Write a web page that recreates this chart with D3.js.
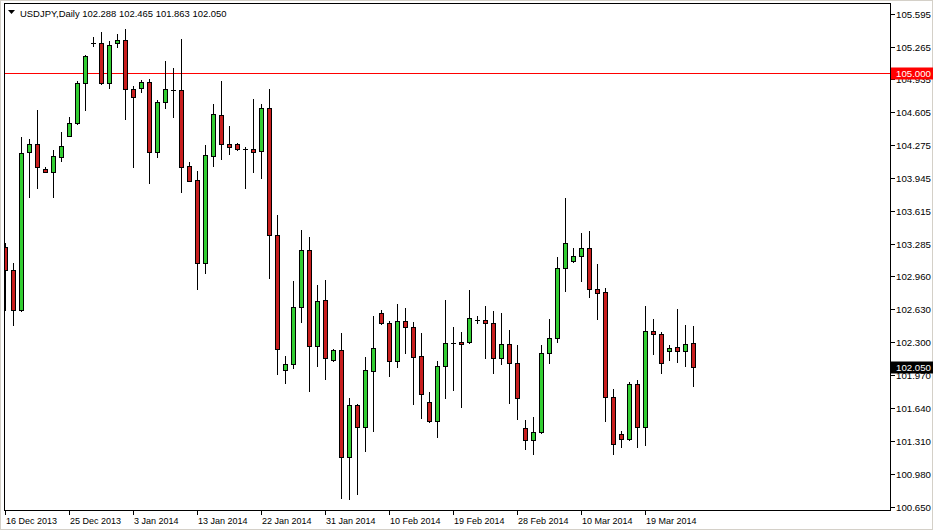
<!DOCTYPE html>
<html><head><meta charset="utf-8">
<script src="https://cdn.jsdelivr.net/npm/d3@7"></script>
<style>
html,body{margin:0;padding:0;background:#fff;overflow:hidden;}
svg{display:block;font-family:"Liberation Sans",Arial,sans-serif;}
</style>
</head><body><div id="chart"></div>
<script>
const title = "USDJPY,Daily 102.288 102.465 101.863 102.050";
const opens = [103.254,103.023,102.622,104.204,104.288,104.037,104.010,104.160,104.371,104.501,
104.897,105.298,105.298,104.897,105.304,105.331,104.836,104.846,104.907,104.210,
104.706,104.829,104.829,104.067,103.926,103.091,104.170,104.579,104.285,104.285,
104.234,104.234,104.217,104.646,103.374,102.020,102.077,102.649,103.224,102.264,
102.722,102.120,102.221,101.150,101.669,101.445,102.013,102.589,102.488,102.113,
102.512,102.454,102.160,101.696,101.508,102.060,102.291,102.298,102.296,102.522,
102.519,102.488,102.137,102.278,102.087,101.435,101.314,101.395,102.187,102.338,
103.040,103.111,103.161,103.241,102.830,102.800,101.752,101.375,101.331,101.876,
101.445,102.414,102.378,102.214,102.248,102.214,102.288];
const highs = [103.294,103.094,104.361,104.338,104.629,104.060,104.227,104.405,104.562,104.920,
105.184,105.358,105.408,105.318,105.391,105.438,104.870,104.930,104.937,104.729,
105.123,105.047,105.341,104.104,104.020,104.278,104.689,104.920,104.468,104.298,
104.254,104.739,104.686,104.839,103.575,102.160,102.916,103.425,103.351,102.873,
102.923,102.230,102.388,101.736,101.675,102.153,102.562,102.622,102.512,102.682,
102.639,102.505,102.388,101.796,102.110,102.722,102.454,102.404,102.818,102.562,
102.662,102.612,102.589,102.421,102.271,101.518,101.545,102.271,102.532,103.151,
103.743,103.241,103.392,103.415,103.083,102.840,101.826,101.411,101.903,101.919,
102.662,102.529,102.404,102.271,102.629,102.471,102.465];
const lows = [102.622,102.471,102.615,103.759,103.843,104.005,103.759,104.120,104.365,104.488,
104.629,105.271,104.890,104.852,105.264,104.535,104.060,104.812,103.893,104.160,
104.652,104.562,103.809,103.915,102.830,102.996,104.070,104.134,104.184,104.227,
103.849,104.010,103.949,102.946,101.977,101.892,102.037,102.505,101.812,102.063,
101.927,102.110,100.738,100.722,100.773,101.210,101.411,102.481,101.963,102.047,
102.194,101.676,101.541,101.500,101.351,101.736,101.819,101.645,102.290,102.488,
102.143,101.987,102.077,101.692,101.525,101.224,101.174,101.390,102.093,102.304,
102.816,103.105,102.916,102.755,102.529,101.511,101.177,101.250,101.318,101.250,
101.267,102.180,101.993,102.120,102.100,102.063,101.863];
const closes = [103.023,102.622,104.194,104.285,104.054,104.010,104.167,104.271,104.501,104.897,
105.171,105.298,104.897,105.278,105.328,104.836,104.762,104.907,104.204,104.712,
104.836,104.829,104.054,103.919,103.091,104.177,104.586,104.285,104.260,104.234,
104.234,104.210,104.646,103.374,102.228,102.080,102.649,103.224,102.261,102.712,
102.137,102.221,101.150,101.669,101.445,102.020,102.241,102.488,102.113,102.512,
102.448,102.153,101.776,101.508,102.060,102.288,102.291,102.284,102.542,102.522,
102.488,102.137,102.278,102.087,101.742,101.314,101.395,102.187,102.338,103.040,
103.291,103.161,103.241,102.830,102.796,101.752,101.274,101.331,101.876,101.445,
102.414,102.378,102.093,102.244,102.214,102.278,102.050];
const priceTicks = ["105.595","105.265","104.935","104.605","104.275","103.945","103.615","103.285",
"102.960","102.630","102.300","101.970","101.640","101.310","100.980","100.650"];
const dateLabels = ["16 Dec 2013","25 Dec 2013","3 Jan 2014","13 Jan 2014","22 Jan 2014",
"31 Jan 2014","10 Feb 2014","19 Feb 2014","28 Feb 2014","10 Mar 2014","19 Mar 2014"];
const dateLabelBars = [0,8,16,24,32,40,48,56,64,72,80];
const hLineLevel = 105.000;
const hLineLabel = "105.000";
const lastLabel = "102.050";

const W = 935, H = 531;
const L = 4, R = 890, T = 3, B = 510;
const svg = d3.select("#chart").append("svg").attr("width", W).attr("height", H);

// font size fitting to the reference text widths
function fitSize(txt, target, base) {
  const t = svg.append("text").attr("font-size", base).text(txt);
  const w = t.node().getComputedTextLength();
  t.remove();
  return w > 0 ? base * target / w : base;
}
const fsPrice = fitSize("105.595", 35, 10);
const fsDate = fitSize("16 Dec 2013", 51, 10);
const fsTitle = fitSize(title, 207, 10);

// window border
svg.append("rect").attr("x",0.5).attr("y",0.5).attr("width",932).attr("height",529)
  .attr("fill","#fff").attr("stroke","#d4d0c8");

const x = d3.scaleLinear().domain([0, 1]).range([5, 13]); // bar index -> pixel column
const y = d3.scaleLinear().domain([100.605, 105.702]).range([511, 3]);
const py = v => Math.round(y(v));

svg.append("defs").append("clipPath").attr("id","plot")
  .append("rect").attr("x",L+1).attr("y",T+1).attr("width",R-L-1).attr("height",B-T-1);

const g = svg.append("g").attr("clip-path","url(#plot)");

// horizontal level line
g.append("line").attr("x1",L).attr("x2",R).attr("y1",py(hLineLevel)+0.5).attr("y2",py(hLineLevel)+0.5)
  .attr("stroke","#ff0000").attr("stroke-width",1).attr("shape-rendering","crispEdges");

const bars = d3.range(opens.length).map(i => ({i, o:opens[i], h:highs[i], l:lows[i], c:closes[i]}));

const cg = g.selectAll("g.c").data(bars).join("g").attr("class","c");
cg.append("line")
  .attr("x1", d => Math.round(x(d.i)) + 0.5).attr("x2", d => Math.round(x(d.i)) + 0.5)
  .attr("y1", d => py(d.h)).attr("y2", d => py(d.l) + 1)
  .attr("stroke","#000").attr("stroke-width",1);
cg.each(function(d){
  const sel = d3.select(this);
  const cx = Math.round(x(d.i));
  const top = py(Math.max(d.o,d.c)), bot = py(Math.min(d.o,d.c));
  if (bot - top < 1) {
    sel.append("line").attr("x1",cx-2).attr("x2",cx+3).attr("y1",top+0.5).attr("y2",top+0.5)
      .attr("stroke","#000").attr("stroke-width",1);
  } else {
    sel.append("rect").attr("x",cx-2+0.5).attr("y",top+0.5).attr("width",4).attr("height",bot-top)
      .attr("fill", d.c >= d.o ? "#32cd32" : "#c81e1e")
      .attr("stroke","#000").attr("stroke-width",1);
  }
});

// frame
svg.append("rect").attr("x",L+0.5).attr("y",T+0.5).attr("width",R-L).attr("height",B-T)
  .attr("fill","none").attr("stroke","#000").attr("stroke-width",1);

// right axis
const ya = svg.append("g");
priceTicks.forEach(t => {
  const yy = py(+t);
  ya.append("line").attr("x1",R+1).attr("x2",R+5).attr("y1",yy+0.5).attr("y2",yy+0.5).attr("stroke","#000");
  ya.append("text").attr("x",R+6).attr("y",yy+0.5).attr("dy","0.35em")
    .attr("font-size",fsPrice).attr("fill","#000").text(t);
});

// level label
const hl = py(hLineLevel);
svg.append("rect").attr("x",R+1).attr("y",hl-5.5).attr("width",42).attr("height",12).attr("fill","#ff0000");
svg.append("text").attr("x",R+6).attr("y",hl+0.5).attr("dy","0.35em").attr("font-size",fsPrice).attr("fill","#fff").text(hLineLabel);
// last price label
const ll = py(closes[closes.length-1]);
svg.append("rect").attr("x",R+1).attr("y",ll-5.5).attr("width",42).attr("height",12).attr("fill","#000");
svg.append("text").attr("x",R+6).attr("y",ll+0.5).attr("dy","0.35em").attr("font-size",fsPrice).attr("fill","#fff").text(lastLabel);

// bottom axis
const xa = svg.append("g");
dateLabels.forEach((t,k) => {
  const xx = Math.round(x(dateLabelBars[k]));
  xa.append("line").attr("x1",xx+0.5).attr("x2",xx+0.5).attr("y1",B).attr("y2",B+5).attr("stroke","#000");
  xa.append("text").attr("x",xx+1).attr("y",B+14).attr("font-size",fsDate).attr("fill","#000").text(t);
});

// title
svg.append("path").attr("d","M8,10 L15,10 L11.5,14 Z").attr("fill","#000");
svg.append("text").attr("x",20).attr("y",17).attr("font-size",fsTitle).attr("fill","#000").text(title);
</script>
</body></html>
